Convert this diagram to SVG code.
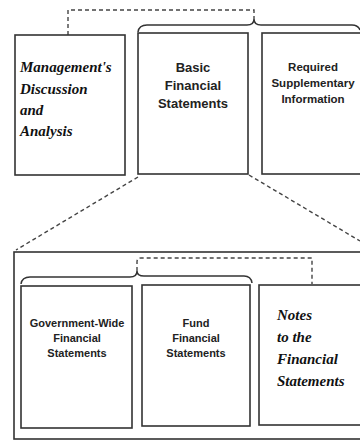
<svg xmlns="http://www.w3.org/2000/svg" width="360" height="440" viewBox="0 0 360 440">
<style>
.box{fill:#fff;stroke:#333;stroke-width:1.6}
.frame{fill:none;stroke:#333;stroke-width:1.6}
.dash{fill:none;stroke:#444;stroke-width:1.4;stroke-dasharray:4 3}
.brace{fill:none;stroke:#333;stroke-width:1.5}
.sans{font-family:"Liberation Sans",Arial,sans-serif;font-weight:bold;fill:#222;text-anchor:middle}
.script{font-family:"Liberation Serif","Times New Roman",serif;font-weight:bold;font-style:italic;font-size:15px;fill:#111}
</style>
<rect width="360" height="440" fill="#fff"/>
<g id="connectors">
<path class="dash" d="M68,35 V10 H254 V19"/>
<path class="brace" d="M138,32 Q139,25 147,25 H247 Q254,25 254,19 Q254,25 261,25 H352 Q358,25 360,30"/>
<path class="dash" d="M138,177 L16,250"/>
<path class="dash" d="M249,175 L360,241"/>
<path class="brace" d="M21,284 Q22,277 30,277 H130 Q137,277 137,271 Q137,276 144,276 H244 Q251,276 252,283"/>
<path class="dash" d="M137,271 V262 Q137,258 141,258 H312 V284"/>
</g>
<g id="mdna">
<rect class="box" x="15" y="35" width="110" height="140"/>
<text class="script" x="20" y="72">Management's</text>
<text class="script" x="20" y="94">Discussion</text>
<text class="script" x="20" y="115">and</text>
<text class="script" x="20" y="136">Analysis</text>
</g>
<g id="basic">
<rect class="box" x="138" y="33" width="110" height="141"/>
<text class="sans" font-size="13" x="193" y="72">Basic</text>
<text class="sans" font-size="13" x="193" y="90">Financial</text>
<text class="sans" font-size="13" x="193" y="108">Statements</text>
</g>
<g id="rsi">
<rect class="box" x="262" y="33" width="110" height="141"/>
<text class="sans" font-size="11.5" x="313" y="71">Required</text>
<text class="sans" font-size="11.5" x="313" y="87">Supplementary</text>
<text class="sans" font-size="11.5" x="313" y="103">Information</text>
</g>
<g id="bfs-detail">
<rect class="frame" x="14" y="252" width="352" height="187"/>
</g>
<g id="govwide">
<rect class="box" x="21" y="286" width="111" height="142"/>
<text class="sans" font-size="11" x="77" y="327">Government-Wide</text>
<text class="sans" font-size="11" x="77" y="342">Financial</text>
<text class="sans" font-size="11" x="77" y="357">Statements</text>
</g>
<g id="fund">
<rect class="box" x="142" y="285" width="108" height="141"/>
<text class="sans" font-size="11" x="196" y="327">Fund</text>
<text class="sans" font-size="11" x="196" y="342">Financial</text>
<text class="sans" font-size="11" x="196" y="357">Statements</text>
</g>
<g id="notes">
<rect class="box" x="259" y="285" width="110" height="140"/>
<text class="script" x="277" y="320">Notes</text>
<text class="script" x="277" y="342">to the</text>
<text class="script" x="277" y="364">Financial</text>
<text class="script" x="277" y="386">Statements</text>
</g>
</svg>
